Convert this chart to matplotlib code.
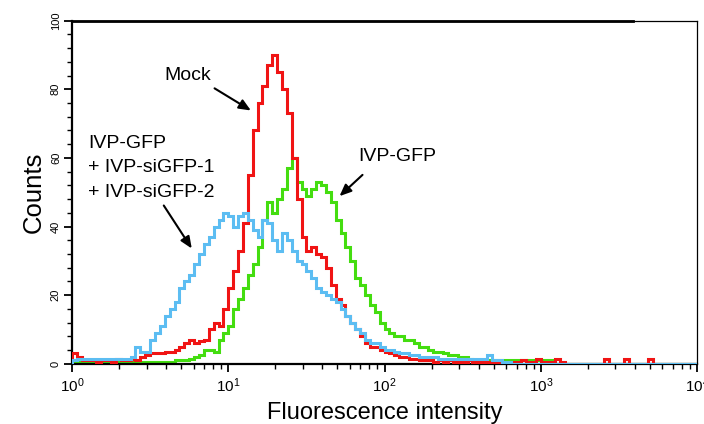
import numpy as np
import matplotlib
matplotlib.use("Agg")
from matplotlib import pyplot as plt
from matplotlib.ticker import LogLocator, MultipleLocator, NullFormatter

plt.rcParams['font.family'] = ['Liberation Sans', 'DejaVu Sans']
plt.rcParams['mathtext.fontset'] = 'custom'
plt.rcParams['mathtext.rm'] = 'Liberation Sans'

# channel edges: 32 channels per decade, 10^0 .. 10^4
n_per_decade = 32
edges = 10 ** (np.arange(0, 4 * n_per_decade + 1) / n_per_decade)

# counts, one value per channel
mock = [
    3, 2, 1, 1, 1, 0.5, 1, 1, 0.5, 1.5, 1, 1, 1.5, 1, 2, 2.5,
    3, 3, 3, 3.5, 3.5, 4, 5, 6, 7, 6, 6.5, 7, 10, 12, 11, 16,
    22, 27, 33, 41, 55, 68, 76, 81, 87, 90, 85, 80, 73, 60, 48, 37,
    33, 34, 32, 31, 28, 23, 19, 17, 14, 12, 10, 8, 6, 5, 5, 4,
    3.5, 3, 2.5, 2, 2, 1.5, 1.5, 1, 1, 1, 0.5, 1, 0.5, 1, 0.5, 0.5,
    0.5, 1, 0.5, 0.5, 0.5, 0.5, 0.5, 0.5, 0.5, 0.5, 0.5, 0.5, 1, 0.5, 0.5, 1.5,
    0.5, 0.5, 0.5, 1.5, 0.5, 0, 0, 0, 0, 0, 0, 0, 0, 1.5, 0, 0,
    0, 1.5, 0, 0, 0, 0, 1.5, 0, 0, 0, 0, 0, 0, 0, 0, 0,
]
sigfp = [
    1, 1.5, 1.5, 1.5, 1.5, 1.5, 1.5, 1.5, 1.5, 1.5, 1.5, 1.5, 2, 5, 3.5, 3.5,
    7, 9, 11, 14, 16, 18, 22, 24, 26, 29, 32, 35, 37, 40, 42, 44,
    43, 40, 43, 44, 42, 39, 37, 42, 41, 36, 33, 38, 36, 33, 30, 29,
    27, 25, 22, 21, 20, 19, 18, 16, 14, 12, 10, 9, 7, 6, 6, 5,
    4, 4, 3.5, 3, 3, 2.5, 2.5, 2, 2, 2, 2, 1.5, 1.5, 1.5, 1.5, 1.5,
    1.5, 1.5, 1.5, 1.5, 1.5, 2.5, 1, 1, 0.5, 0.5, 0, 0, 0, 0, 0, 0,
    0, 0, 0, 0, 0, 0, 0, 0, 0, 0, 0, 0, 0, 0, 0, 0,
    0, 0, 0, 0, 0, 0, 0, 0, 0, 0, 0, 0, 0, 0, 0, 0,
]
ivp_gfp = [
    0.5, 0.5, 0.5, 0.5, 0.5, 0.5, 0.5, 0.5, 0.5, 0.5, 0.5, 0.5, 0.5, 0.5, 0.5, 0.5,
    0.5, 0.5, 0.5, 0.5, 0.5, 1, 1, 1, 1.5, 2, 2.6, 4, 4, 3.5, 7, 9,
    11, 16, 19, 22, 26, 29, 34, 42, 47, 44, 48, 51, 57, 60, 53, 51,
    49, 51, 53, 52, 50, 47, 42, 38, 34, 30, 25, 23, 20, 17, 15, 12,
    10, 9, 8, 8, 7, 7, 6, 5, 5, 4, 3.5, 3.5, 3, 2.5, 2.5, 2,
    2, 1.5, 1, 1, 1, 1, 1, 1, 1, 1, 1, 1, 1, 1, 1, 1,
    1, 1, 1, 0, 0, 0, 0, 0, 0, 0, 0, 0, 0, 0, 0, 0,
    0, 0, 0, 0, 0, 0, 0, 0, 0, 0, 0, 0, 0, 0, 0, 0,
]

fig = plt.figure(figsize=(7.04, 4.24), dpi=100)
ax = fig.add_axes([0.1023, 0.1422, 0.8878, 0.8090])

ax.stairs(ivp_gfp, edges, color='#44dd10', linewidth=2.2, zorder=2)
ax.stairs(mock, edges, color='#f01414', linewidth=2.2, zorder=3)
ax.stairs(sigfp, edges, color='#5cbdf2', linewidth=2.2, zorder=4)

ax.set_xscale('log')
ax.set_xlim(1, 1e4)
ax.set_ylim(0, 100)

ax.xaxis.set_major_locator(LogLocator(base=10, numticks=10))
ax.xaxis.set_minor_locator(LogLocator(base=10, subs=np.arange(2, 10), numticks=10))
ax.xaxis.set_minor_formatter(NullFormatter())
ax.yaxis.set_major_locator(MultipleLocator(20))
ax.yaxis.set_minor_locator(MultipleLocator(4))

ax.tick_params(which='major', length=6, width=1.3, labelsize=11, pad=3)
ax.tick_params(which='minor', length=3.5, width=1.0)
ax.tick_params(axis='y', which='major', labelsize=8, pad=2)
for lab in ax.get_yticklabels():
    lab.set_rotation(90)
    lab.set_va('center')

for side in ['left', 'bottom']:
    ax.spines[side].set_linewidth(1.6)
ax.spines['right'].set_linewidth(0.9)
ax.spines['top'].set_linewidth(0.9)
ax.plot([0, 0.898], [1, 1], transform=ax.transAxes, color='black',
        linewidth=2.0, clip_on=False, zorder=5)

ax.set_xlabel('Fluorescence intensity', fontsize=17, labelpad=5)
ax.set_ylabel('Counts', fontsize=18.5, labelpad=4)

arrow = dict(arrowstyle='-|>,head_length=0.7,head_width=0.3', color='black', linewidth=1.5)
ax.annotate('', xy=(14.45, 73.4), xytext=(7.89, 80.7), arrowprops=arrow)
ax.annotate('', xy=(50, 48.3), xytext=(74.5, 55.6), arrowprops=arrow)
ax.annotate('', xy=(5.97, 32.9), xytext=(3.78, 46.8), arrowprops=arrow)

ax.text(5.54, 84, 'Mock', fontsize=14, ha='center', va='center')
ax.text(121, 60.3, 'IVP-GFP', fontsize=14, ha='center', va='center')
ax.text(1.27, 62.9, 'IVP-GFP', fontsize=14, ha='left', va='baseline')
ax.text(1.27, 55.9, '+ IVP-siGFP-1', fontsize=14, ha='left', va='baseline')
ax.text(1.27, 48.6, '+ IVP-siGFP-2', fontsize=14, ha='left', va='baseline')

fig.savefig('out.png', dpi=100)
